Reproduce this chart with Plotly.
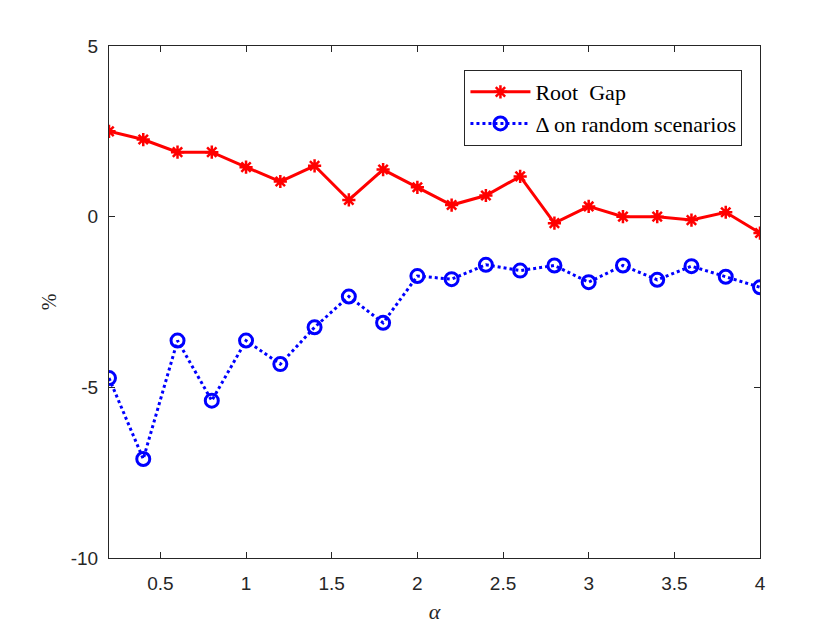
import plotly.graph_objects as go

alpha = [0.2, 0.4, 0.6, 0.8, 1.0, 1.2, 1.4, 1.6, 1.8, 2.0, 2.2, 2.4, 2.6, 2.8, 3.0, 3.2, 3.4, 3.6, 3.8, 4.0]
root_gap = [2.50, 2.26, 1.89, 1.89, 1.45, 1.03, 1.49, 0.49, 1.38, 0.86, 0.34, 0.62, 1.18, -0.19, 0.30, 0.0, 0.0, -0.10, 0.13, -0.48]
delta_random = [-4.73, -7.10, -3.63, -5.39, -3.63, -4.32, -3.24, -2.34, -3.11, -1.74, -1.83, -1.41, -1.58, -1.43, -1.92, -1.43, -1.85, -1.45, -1.76, -2.07]

x_ticks = [0.5, 1, 1.5, 2, 2.5, 3, 3.5, 4]
x_ticklabels = ["0.5", "1", "1.5", "2", "2.5", "3", "3.5", "4"]
y_ticks = [5, 0, -5, -10]
y_ticklabels = ["5", "0", "-5", "-10"]

fig = go.Figure()
fig.add_trace(go.Scatter(
    x=alpha, y=root_gap, mode="lines+markers", name="Root  Gap",
    line=dict(color="#FF0000", width=3),
    marker=dict(symbol="asterisk-open", size=11, color="#FF0000",
                line=dict(color="#FF0000", width=2.5)),
))
fig.add_trace(go.Scatter(
    x=alpha, y=delta_random, mode="lines+markers", name="Δ on random scenarios",
    line=dict(color="#0000FF", width=3, dash="dot"),
    marker=dict(symbol="circle-open", size=13, color="#0000FF",
                line=dict(color="#0000FF", width=3)),
))

axis_common = dict(
    showline=True, linecolor="#262626", linewidth=1, mirror="allticks",
    ticks="inside", ticklen=6, tickcolor="#262626", tickwidth=1,
    showgrid=False, zeroline=False,
    tickfont=dict(family="Liberation Sans, Arial", size=19, color="#262626"),
)

serif = "Liberation Serif, DejaVu Serif"

fig.update_layout(
    width=840, height=630,
    margin=dict(l=109, r=80, t=46, b=72),
    paper_bgcolor="white", plot_bgcolor="white",
    showlegend=True,
    legend=dict(
        x=0.546, y=0.953, xanchor="left", yanchor="top",
        bgcolor="white", bordercolor="#262626", borderwidth=1,
        font=dict(family=serif, size=22, color="black"),
        tracegroupgap=0, itemwidth=60,
    ),
    xaxis=dict(
        range=[0.2, 4], tickvals=x_ticks, ticktext=x_ticklabels,
        ticklabelstandoff=8,
        title=dict(text="<i>α</i>", font=dict(family=serif, size=22, color="#262626"), standoff=10),
        **axis_common,
    ),
    yaxis=dict(
        range=[-10, 5], tickvals=y_ticks, ticktext=y_ticklabels,
        ticklabelstandoff=6,
        title=dict(text="%", font=dict(family=serif, size=20, color="#262626"), standoff=8),
        **axis_common,
    ),
)

fig.write_html("out.html")
